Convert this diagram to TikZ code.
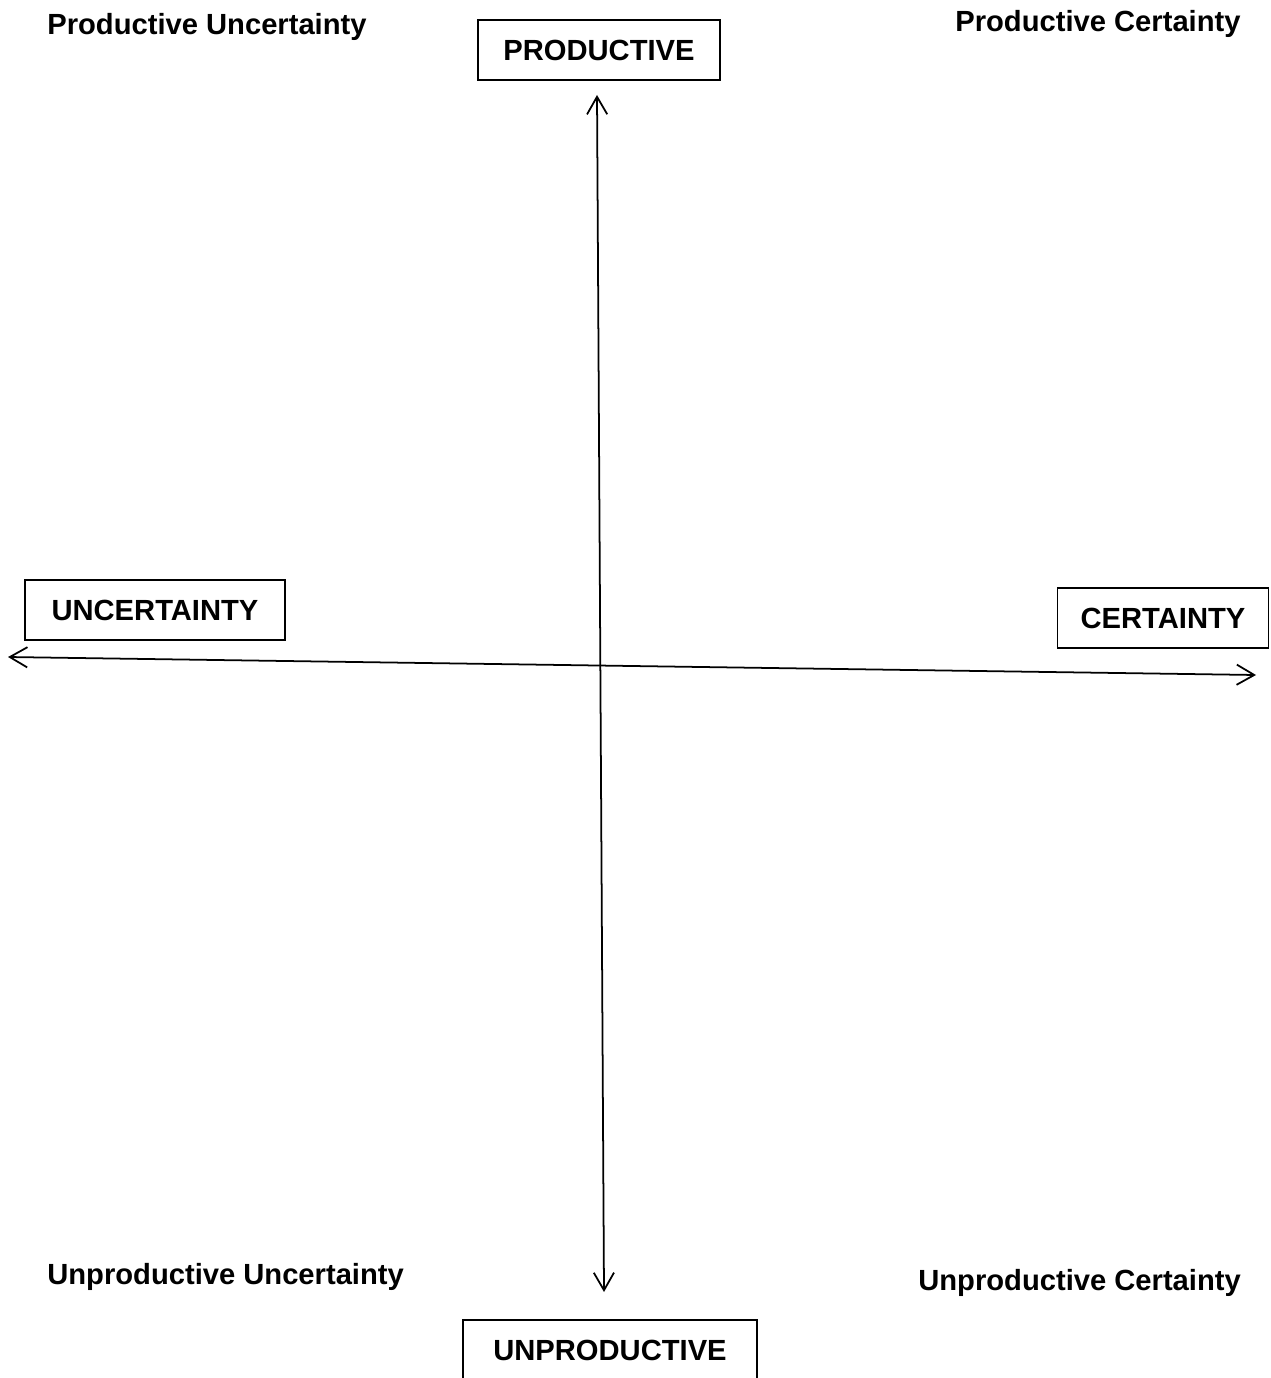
\documentclass[tikz,border=0pt]{standalone}
\usepackage{fontspec}
\setmainfont{Liberation Sans}
\usepackage{tikz}
\usetikzlibrary{arrows.meta, positioning}

\begin{document}
\begin{tikzpicture}[
    x=0.02cm, y=-0.02cm,
    axisbox/.style={draw, line width=1pt, rectangle, minimum height=1.2cm,
                    inner sep=0pt, font=\fontsize{16.6}{19}\selectfont\bfseries},
    corner/.style={anchor=base west, inner sep=0pt,
                   font=\fontsize{16.6}{19}\selectfont\bfseries},
    axisline/.style={line width=1pt, {Straight Barb[length=10pt, width=11.5pt]}-{Straight Barb[length=10pt, width=11.5pt]}}
]
    \useasboundingbox (0,0) rectangle (1270,1378);
    \clip (0,0) rectangle (1270,1378);

    % Axis labels (boxed)
    \node[axisbox, minimum width=4.84cm] at (599,50) (productive) {PRODUCTIVE};
    \node[axisbox, minimum width=5.2cm] at (155,610) (uncertainty) {UNCERTAINTY};
    \node[axisbox, minimum width=4.22cm] at (1163,618) (certainty) {CERTAINTY};
    \node[axisbox, minimum width=5.88cm] at (610,1350) (unproductive) {UNPRODUCTIVE};

    % Quadrant labels
    \node[corner] at (47,35) (produncert) {Productive Uncertainty};
    \node[corner] at (955,32) (prodcert) {Productive Certainty};
    \node[corner] at (47,1284) (unprod-uncert) {Unproductive Uncertainty};
    \node[corner] at (918,1290) (unprodcert) {Unproductive Certainty};

    % Axes
    \coordinate (prodtip) at (597,95);
    \coordinate (unprodtip) at (604,1292);
    \coordinate (uncerttip) at (8,657);
    \coordinate (certtip) at (1256,675);
    \draw[axisline] (prodtip) -- (unprodtip);
    \draw[axisline] (uncerttip) -- (certtip);
\end{tikzpicture}
\end{document}
